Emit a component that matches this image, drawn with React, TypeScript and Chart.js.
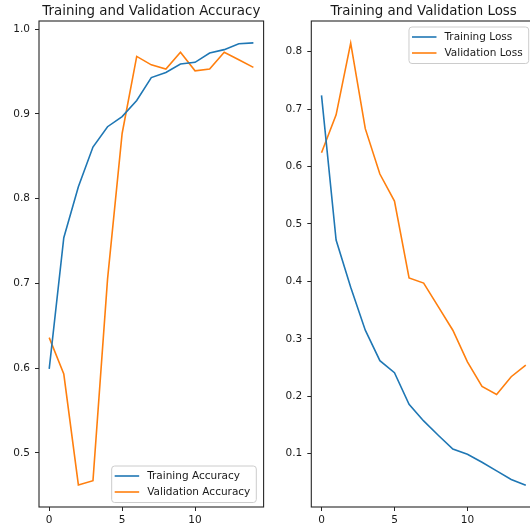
import React, { useEffect, useRef } from "react";
import { Chart, registerables } from "chart.js";

Chart.register(...registerables);

// ---- data ----
const epochs = [0, 1, 2, 3, 4, 5, 6, 7, 8, 9, 10, 11, 12, 13, 14];
const trainAcc = [0.599, 0.754, 0.814, 0.861, 0.885, 0.897, 0.916, 0.943, 0.949, 0.959, 0.961, 0.972, 0.976, 0.983, 0.984];
const valAcc = [0.636, 0.593, 0.462, 0.467, 0.705, 0.877, 0.968, 0.958, 0.953, 0.973, 0.951, 0.953, 0.973, 0.964, 0.955];
const trainLoss = [0.724, 0.472, 0.39, 0.315, 0.262, 0.241, 0.186, 0.157, 0.132, 0.108, 0.099, 0.085, 0.07, 0.055, 0.045];
const valLoss = [0.624, 0.69, 0.815, 0.666, 0.587, 0.54, 0.406, 0.397, 0.356, 0.315, 0.26, 0.217, 0.203, 0.234, 0.254];

const xTicks = [0, 5, 10];
const accTicks = [0.5, 0.6, 0.7, 0.8, 0.9, 1.0];
const lossTicks = [0.1, 0.2, 0.3, 0.4, 0.5, 0.6, 0.7, 0.8];

const accTitle = "Training and Validation Accuracy";
const lossTitle = "Training and Validation Loss";
const accLabels = ["Training Accuracy", "Validation Accuracy"];
const lossLabels = ["Training Loss", "Validation Loss"];

const BLUE = "#1f77b4";
const ORANGE = "#ff7f0e";
const FONT = "'DejaVu Sans', sans-serif";
const TEXT = "#1a1a1a";

type PanelOpts = {
  train: number[];
  val: number[];
  labels: string[];
  title: string;
  yMin: number;
  yMax: number;
  yTicks: number[];
  yAxisWidth: number;
  padRight: number;
  legendCorner: "lower right" | "upper right";
};

const framePlugin = {
  id: "mplFrame",
  afterDraw(chart: any, _args: any, opts: any) {
    const { ctx, chartArea: ca } = chart;
    ctx.save();
    // spines
    ctx.strokeStyle = "#262626";
    ctx.lineWidth = 1.1;
    ctx.strokeRect(ca.left, ca.top, ca.right - ca.left, ca.bottom - ca.top);
    // title
    ctx.fillStyle = TEXT;
    ctx.font = `13.4px ${FONT}`;
    ctx.textAlign = "center";
    ctx.textBaseline = "alphabetic";
    ctx.fillText(opts.title, (ca.left + ca.right) / 2, ca.top - 6);
    // legend
    const fs = 10.5;
    ctx.font = `${fs}px ${FONT}`;
    const datasets = chart.data.datasets;
    let tw = 0;
    datasets.forEach((d: any) => {
      tw = Math.max(tw, ctx.measureText(d.label).width);
    });
    const padL = 3, lineLen = 24.5, gap = 8, padR = 6;
    const w = padL + lineLen + gap + tw + padR;
    const h = 36.5;
    const right = ca.right - 7.3;
    const left = right - w;
    const top = opts.corner === "lower right" ? ca.bottom - 4.5 - h : ca.top + 6;
    const r = 3;
    ctx.beginPath();
    ctx.moveTo(left + r, top);
    ctx.lineTo(left + w - r, top);
    ctx.arcTo(left + w, top, left + w, top + r, r);
    ctx.lineTo(left + w, top + h - r);
    ctx.arcTo(left + w, top + h, left + w - r, top + h, r);
    ctx.lineTo(left + r, top + h);
    ctx.arcTo(left, top + h, left, top + h - r, r);
    ctx.lineTo(left, top + r);
    ctx.arcTo(left, top, left + r, top, r);
    ctx.closePath();
    ctx.fillStyle = "rgba(255,255,255,0.8)";
    ctx.fill();
    ctx.strokeStyle = "#cccccc";
    ctx.lineWidth = 1;
    ctx.stroke();
    datasets.forEach((d: any, i: number) => {
      const cy = top + 10 + i * 16;
      ctx.strokeStyle = d.borderColor;
      ctx.lineWidth = 1.6;
      ctx.beginPath();
      ctx.moveTo(left + padL, cy);
      ctx.lineTo(left + padL + lineLen, cy);
      ctx.stroke();
      ctx.fillStyle = TEXT;
      ctx.textAlign = "left";
      ctx.textBaseline = "middle";
      ctx.fillText(d.label, left + padL + lineLen + gap, cy + 0.5);
    });
    ctx.restore();
  },
};

function makeConfig(p: PanelOpts): any {
  const pts = (arr: number[]) => epochs.map((e, i) => ({ x: e, y: arr[i] }));
  const tickFont = { family: FONT, size: 10.5 };
  return {
    type: "line",
    data: {
      datasets: [
        { label: p.labels[0], data: pts(p.train), borderColor: BLUE, backgroundColor: BLUE, borderWidth: 1.6, pointRadius: 0, tension: 0, fill: false },
        { label: p.labels[1], data: pts(p.val), borderColor: ORANGE, backgroundColor: ORANGE, borderWidth: 1.6, pointRadius: 0, tension: 0, fill: false },
      ],
    },
    options: {
      responsive: false,
      animation: false,
      events: [],
      layout: { padding: { left: 0, right: p.padRight, top: 21, bottom: 0 } },
      plugins: {
        legend: { display: false },
        title: { display: false },
        tooltip: { enabled: false },
        mplFrame: { title: p.title, corner: p.legendCorner },
      },
      scales: {
        x: {
          type: "linear",
          min: -0.7,
          max: 14.7,
          afterBuildTicks: (s: any) => {
            s.ticks = xTicks.map((v) => ({ value: v }));
          },
          afterFit: (s: any) => {
            s.height = 22;
          },
          border: { display: false },
          grid: { drawOnChartArea: false, drawTicks: true, tickLength: 4, color: "#262626", lineWidth: 1 },
          ticks: { color: TEXT, font: tickFont, padding: 3, maxRotation: 0, autoSkip: false, callback: (v: number) => String(v) },
        },
        y: {
          type: "linear",
          min: p.yMin,
          max: p.yMax,
          afterBuildTicks: (s: any) => {
            s.ticks = p.yTicks.map((v) => ({ value: v }));
          },
          afterFit: (s: any) => {
            s.width = p.yAxisWidth;
          },
          border: { display: false },
          grid: { drawOnChartArea: false, drawTicks: true, tickLength: 4, color: "#262626", lineWidth: 1 },
          ticks: { color: TEXT, font: tickFont, padding: 5, autoSkip: false, callback: (v: number) => v.toFixed(1) },
        },
      },
    },
    plugins: [framePlugin],
  };
}

function Panel(props: { opts: PanelOpts; left: number; width: number; height: number }) {
  const ref = useRef<HTMLCanvasElement | null>(null);
  useEffect(() => {
    if (!ref.current) return;
    const chart = new Chart(ref.current, makeConfig(props.opts));
    return () => chart.destroy();
  }, []);
  return (
    <canvas
      ref={ref}
      width={props.width}
      height={props.height}
      style={{ position: "absolute", left: props.left, top: 0, width: props.width, height: props.height }}
    />
  );
}

export default function App() {
  return (
    <div style={{ position: "fixed", left: 0, top: 0, width: 530, height: 529, overflow: "hidden", background: "#ffffff" }}>
      <Panel
        left={0}
        width={270}
        height={529}
        opts={{
          train: trainAcc,
          val: valAcc,
          labels: accLabels,
          title: accTitle,
          yMin: 0.436,
          yMax: 1.0098,
          yTicks: accTicks,
          yAxisWidth: 39,
          padRight: 6.4,
          legendCorner: "lower right",
        }}
      />
      <Panel
        left={270}
        width={280}
        height={529}
        opts={{
          train: trainLoss,
          val: valLoss,
          labels: lossLabels,
          title: lossTitle,
          yMin: 0.0071,
          yMax: 0.8535,
          yTicks: lossTicks,
          yAxisWidth: 41.3,
          padRight: 14,
          legendCorner: "upper right",
        }}
      />
    </div>
  );
}
